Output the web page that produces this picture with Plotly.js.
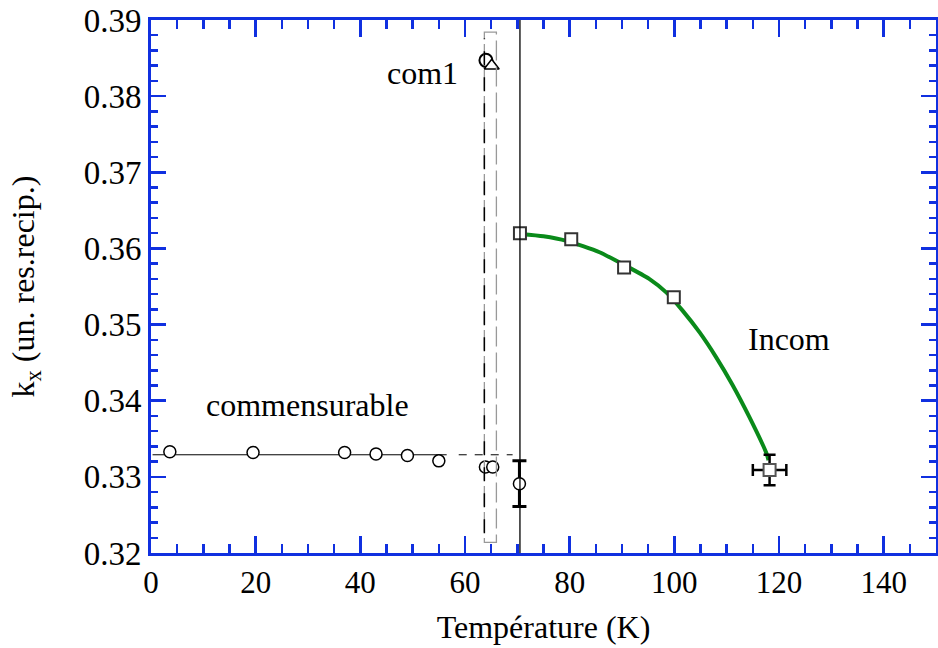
<!DOCTYPE html>
<html>
<head>
<meta charset="utf-8">
<script src="https://cdn.plot.ly/plotly-3.0.1.min.js"></script>
<style>html,body{margin:0;padding:0;background:#fff;}#chart{width:938px;height:648px;}</style>
</head>
<body>
<div id="chart"></div>
<script>
// Commensurable phase (open circles)
const commT = [3.6, 19.5, 37.0, 43.0, 49.0, 55.0];
const commK = [0.3333, 0.3332, 0.3332, 0.3330, 0.3328, 0.3321];
// Commensurable reference line (solid then dashed)
const commLineT = [0.3, 56.5];
const commLineK = [0.3329, 0.3329];
const commDashT = [58.8, 69.1];
const commDashK = [0.3329, 0.3329];
// Points near 65 K
const nearT = [63.9, 65.3];
const nearK = [0.3313, 0.3313];
// Point at transition with error bar
const transT = [70.4];
const transK = [0.3291];
const transErr = [0.003];
// com1 phase
const com1T = [64.0];
const com1K = [0.3847];
const com1bT = [65.1];
const com1bK = [0.3840];
// Incommensurate phase (squares)
const incomT = [70.5, 80.3, 90.4, 99.9];
const incomK = [0.3620, 0.3612, 0.3575, 0.3536];
// Last incommensurate point with error bars
const lastT = [118.2];
const lastK = [0.3309];
const lastErrK = [0.002];
const lastErrT = [3.2];
// Green curve
const curveT = [70.6, 75.0, 79.4, 85.7, 90.5, 95.2, 98.5, 101.5, 104.8, 108.0, 111.1, 114.3, 117.6, 118.0];
const curveK = [0.3619, 0.3616, 0.3610, 0.3595, 0.3578, 0.3560, 0.3542, 0.3519, 0.3490, 0.3457, 0.3421, 0.3379, 0.3331, 0.3322];
// Transition lines
const transLineT = 70.5;
const boxLeftT = 63.7, boxRightT = 66.0;
const boxBottomK = 0.3214, boxTopK = 0.3884;
const boxDashBottomK = 0.3226, boxDashTopK = 0.3876;
// Axis ticks
const xTicks = [0, 20, 40, 60, 80, 100, 120, 140];
const yTicks = [0.32, 0.33, 0.34, 0.35, 0.36, 0.37, 0.38, 0.39];

const BLUE = '#1030e0';
const FONT = 'Liberation Serif';

const traces = [
  {x: commLineT, y: commLineK, mode: 'lines', line: {color: 'black', width: 1}, hoverinfo: 'skip'},
  {x: commDashT, y: commDashK, mode: 'lines', line: {color: 'black', width: 1, dash: '8px,8px'}, hoverinfo: 'skip'},
  {x: curveT, y: curveK, mode: 'lines', line: {color: '#0a8a1a', width: 4, shape: 'spline', smoothing: 0.6}},
  {x: commT, y: commK, mode: 'markers', marker: {symbol: 'circle', size: 12, color: 'white', line: {color: 'black', width: 1.5}}},
  {x: nearT, y: nearK, mode: 'markers', marker: {symbol: 'circle', size: 12, color: 'white', line: {color: 'black', width: 1.5}}},
  {x: transT, y: transK, mode: 'markers', marker: {symbol: 'circle', size: 12, color: 'white', line: {color: 'black', width: 1.5}},
   error_y: {type: 'data', array: transErr, visible: true, color: 'black', thickness: 3, width: 7}},
  {x: com1T, y: com1K, mode: 'markers', marker: {symbol: 'circle-open', size: 13, color: 'black', line: {width: 2}}},
  {x: com1bT, y: com1bK, mode: 'markers', marker: {symbol: 'triangle-up', size: 13, color: 'white', line: {color: 'black', width: 1.5}}},
  {x: incomT, y: incomK, mode: 'markers', marker: {symbol: 'square', size: 12, color: 'white', line: {color: '#333', width: 2}}},
  {x: lastT, y: lastK, mode: 'markers', marker: {symbol: 'square', size: 12, color: 'white', line: {color: '#555', width: 2}},
   error_y: {type: 'data', array: lastErrK, visible: true, color: 'black', thickness: 2.5, width: 6},
   error_x: {type: 'data', array: lastErrT, visible: true, color: 'black', thickness: 2.5, width: 6}}
];

const layout = {
  width: 938, height: 648,
  margin: {l: 151, r: 2, t: 20, b: 95},
  paper_bgcolor: 'white', plot_bgcolor: 'white',
  showlegend: false,
  font: {family: FONT, size: 32, color: 'black'},
  xaxis: {
    range: [0, 150], tickvals: xTicks, ticktext: xTicks.map(String),
    showgrid: false, zeroline: false,
    showline: true, linecolor: BLUE, linewidth: 3, mirror: 'allticks',
    ticks: 'inside', ticklen: 17, tickwidth: 2.5, tickcolor: BLUE,
    minor: {ticks: 'inside', dtick: 5, ticklen: 9, tickwidth: 2.5, tickcolor: BLUE, showgrid: false},
    tickfont: {family: FONT, size: 31, color: 'black'},
    title: {text: 'Température (K)', font: {family: FONT, size: 32, color: 'black'}, standoff: 17}
  },
  yaxis: {
    range: [0.32, 0.39], tickvals: yTicks, ticktext: yTicks.map(v => v.toFixed(2)),
    showgrid: false, zeroline: false,
    showline: true, linecolor: BLUE, linewidth: 3, mirror: 'allticks',
    ticks: 'inside', ticklen: 15, tickwidth: 2.5, tickcolor: BLUE,
    minor: {ticks: 'inside', dtick: 0.002, tick0: 0.32, ticklen: 7, tickwidth: 2.5, tickcolor: BLUE, showgrid: false},
    tickfont: {family: FONT, size: 33, color: 'black'},
    title: {text: 'k<sub>x</sub> (un. res.recip.)', font: {family: FONT, size: 32, color: 'black'}, standoff: 40}
  },
  shapes: [
    {type: 'line', xref: 'x', yref: 'y', x0: transLineT, x1: transLineT, y0: 0.32, y1: 0.39, line: {color: 'black', width: 1.3}},
    {type: 'rect', xref: 'x', yref: 'y', x0: boxLeftT, x1: boxRightT, y0: boxBottomK, y1: boxTopK, line: {color: '#999', width: 1.3, dash: '20px,6px'}},
    {type: 'line', xref: 'x', yref: 'y', x0: boxLeftT, x1: boxLeftT, y0: boxDashBottomK, y1: boxDashTopK, line: {color: 'black', width: 1.5, dash: '14px,12px'}}
  ],
  annotations: [
    {x: 51.8, y: 0.3830, xref: 'x', yref: 'y', text: 'com1', showarrow: false, xanchor: 'center', yanchor: 'middle', font: {family: FONT, size: 32, color: 'black'}},
    {x: 29.9, y: 0.3394, xref: 'x', yref: 'y', text: 'commensurable', showarrow: false, xanchor: 'center', yanchor: 'middle', font: {family: FONT, size: 32, color: 'black'}},
    {x: 121.9, y: 0.3481, xref: 'x', yref: 'y', text: 'Incom', showarrow: false, xanchor: 'center', yanchor: 'middle', font: {family: FONT, size: 32, color: 'black'}}
  ]
};

Plotly.newPlot('chart', traces, layout, {displayModeBar: false, staticPlot: true});
</script>
</body>
</html>
